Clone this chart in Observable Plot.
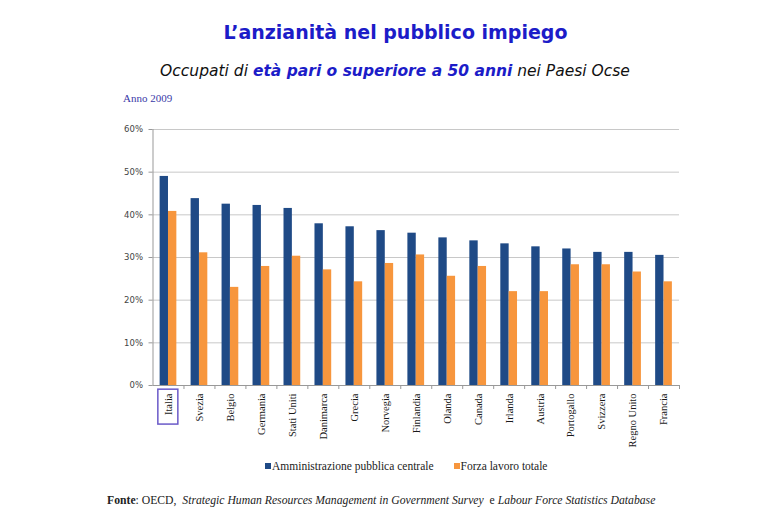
<!DOCTYPE html>
<html>
<head>
<meta charset="utf-8">
<script src="https://cdn.jsdelivr.net/npm/d3@7"></script>
<script src="https://cdn.jsdelivr.net/npm/@observablehq/plot@0.6"></script>
<style>
  html, body { margin: 0; padding: 0; background: #fff; }
  #wrap { position: relative; width: 767px; height: 511px; overflow: hidden; background: #fff; }
  #chart { position: absolute; left: 0; top: 0; }
  .abs { position: absolute; white-space: nowrap; }
  #title { top: 21px; left: 12px; width: 767px; text-align: center; font-family: "DejaVu Sans", sans-serif; font-weight: bold; font-size: 19px; color: #1c1cc8; }
  #subtitle { top: 62px; left: 0; width: 790px; text-align: center; font-family: "DejaVu Sans", sans-serif; font-style: italic; font-size: 15.5px; color: #111; }
  #subtitle b { color: #1c1cc8; }
  #anno { top: 92px; left: 123px; font-family: "Liberation Serif", serif; font-size: 11px; color: #3a3aa8; }
  #legend { top: 460px; left: 265px; font-family: "Liberation Serif", serif; font-size: 11.5px; color: #222; }
  #legend span.sw { display: inline-block; width: 6px; height: 6px; margin-right: 1px; vertical-align: 1px; }
  #source { top: 494px; left: 107px; font-family: "Liberation Serif", serif; font-size: 11.7px; color: #222; }
</style>
</head>
<body>
<div id="wrap">
  <div id="chart"></div>
  <div class="abs" id="title">L’anzianità nel pubblico impiego</div>
  <div class="abs" id="subtitle">Occupati di <b>età pari o superiore a 50 anni</b> nei Paesi Ocse</div>
  <div class="abs" id="anno">Anno 2009</div>
  <div class="abs" id="legend"></div>
  <div class="abs" id="source"><b>Fonte</b>: OECD,&nbsp; <i>Strategic Human Resources Management in Government Survey</i> &nbsp;e <i>Labour Force Statistics Database</i></div>
</div>
<script>
const countries = ["Italia","Svezia","Belgio","Germania","Stati Uniti","Danimarca","Grecia","Norvegia","Finlandia","Olanda","Canada","Irlanda","Austria","Portogallo","Svizzera","Regno Unito","Francia"];
const pubblica = [0.490,0.438,0.425,0.422,0.415,0.379,0.372,0.363,0.357,0.346,0.339,0.332,0.325,0.320,0.312,0.312,0.305];
const forza    = [0.408,0.311,0.230,0.279,0.303,0.271,0.243,0.286,0.306,0.256,0.279,0.220,0.220,0.283,0.283,0.266,0.243];
const seriesNames = ["Amministrazione pubblica centrale","Forza lavoro totale"];
const seriesColors = ["#1f4a86","#f7963d"];
const yTicks = [0,0.1,0.2,0.3,0.4,0.5,0.6];

const rowsA = countries.map((c,i) => ({country: c, value: pubblica[i]}));
const rowsB = countries.map((c,i) => ({country: c, value: forza[i]}));

const W = 767, H = 470, ML = 152.5, MR = 88, MT = 129, MB = 85;
const step = (W - ML - MR) / countries.length;
const half = step / 2;
const barW = step * 0.27;
const gap = (step - 2 * barW) / 2;

const plot = Plot.plot({
  width: W, height: H,
  marginLeft: ML, marginRight: MR, marginTop: MT, marginBottom: MB,
  x: {type: "band", domain: countries, padding: 0, round: false, label: null},
  y: {domain: [0, 0.6], ticks: yTicks, label: null},
  marks: [
    Plot.gridY(yTicks, {stroke: "#c8c8c8", strokeOpacity: 1, strokeWidth: 1}),
    Plot.barY(rowsA, {x: "country", y: "value", fill: seriesColors[0], insetLeft: gap, insetRight: gap + barW}),
    Plot.barY(rowsB, {x: "country", y: "value", fill: seriesColors[1], insetLeft: gap + barW, insetRight: gap}),
    Plot.ruleY([0], {stroke: "#999"}),
    Plot.ruleX([countries[0]], {y1: 0, y2: 0.6, dx: -half, stroke: "#999"}),
    Plot.ruleX(countries, {y1: 0, y2: 0, insetBottom: -4, dx: half, stroke: "#999"}),
    Plot.axisY({ticks: yTicks, tickFormat: d3.format(".0%"), tickSize: 4, tickPadding: 6, fontSize: 8.5, fontFamily: "DejaVu Sans, sans-serif", fill: "#444", stroke: "#999", label: null}),
    Plot.axisX({tickRotate: -90, tickSize: 0, tickPadding: 8, fontSize: 10.5, fontFamily: "Liberation Serif, serif", fill: "#1a1a1a", label: null})
  ]
});
document.getElementById("chart").appendChild(plot);

// box around the "Italia" label
plot.querySelectorAll("text").forEach(t => {
  if (t.textContent === "Italia") {
    const bb = t.getBBox();
    const r = document.createElementNS("http://www.w3.org/2000/svg", "rect");
    r.setAttribute("x", bb.x - 9);
    r.setAttribute("y", bb.y - 5);
    r.setAttribute("width", bb.width + 13);
    r.setAttribute("height", bb.height + 9);
    r.setAttribute("fill", "none");
    r.setAttribute("stroke", "#6a5ac8");
    r.setAttribute("stroke-width", 1.5);
    if (t.getAttribute("transform")) r.setAttribute("transform", t.getAttribute("transform"));
    t.parentNode.appendChild(r);
  }
});

// legend
const lg = document.getElementById("legend");
seriesNames.forEach((n, i) => {
  const s = document.createElement("span");
  s.style.marginRight = i === 0 ? "20px" : "0";
  s.innerHTML = `<span class="sw" style="background:${seriesColors[i]}"></span>${n}`;
  lg.appendChild(s);
});
</script>
</body>
</html>
